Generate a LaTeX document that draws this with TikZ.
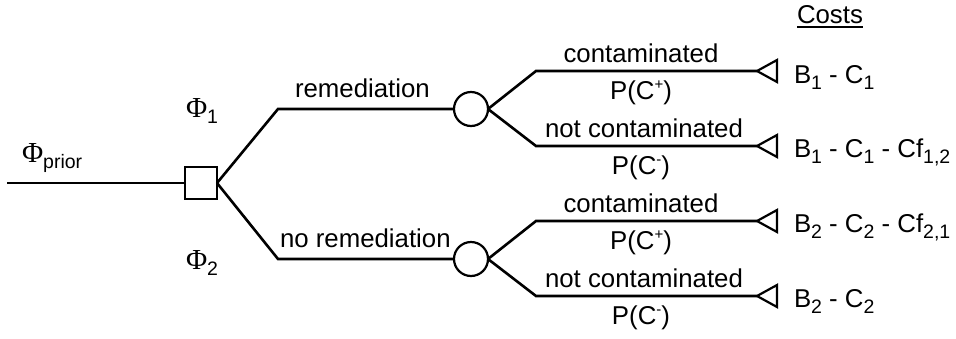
\documentclass[tikz,border=0pt]{standalone}
\usepackage{fontspec}
\setmainfont{Liberation Sans}
\newfontfamily\greekfont{Liberation Serif}
% lowered / raised small text for indices
\newcommand{\lowtxt}[1]{\raisebox{-0.27em}{\fontsize{19.5}{19.5}\selectfont #1}}
\newcommand{\uptxt}[1]{\raisebox{0.36em}{\fontsize{15}{15}\selectfont #1}}
\newcommand{\Phisym}{{\greekfont\fontsize{29}{29}\selectfont Φ}}

\begin{document}
\begin{tikzpicture}[x=1pt,y=-1pt,
  every node/.style={inner sep=0pt, outer sep=0pt, font=\fontsize{25.8}{30}\selectfont},
  branch/.style={line width=2.6pt},
  decision/.style={draw, line width=2.2pt, rectangle, minimum size=32pt, fill=white},
  chance/.style={draw, line width=2.2pt, circle, minimum size=34pt, fill=white},
  leafmark/.style={draw, line width=2.2pt, line join=miter},
  lbl/.style={anchor=base},
  lblw/.style={anchor=base west}]
\useasboundingbox (0,0) rectangle (956,338);

% decision and chance nodes
\node[decision] (sq) at (201,183) {};
\node[chance] (c1) at (471,109) {};
\node[chance] (c2) at (471,259) {};

% free ends and bends
\coordinate (root) at (7,183);
\coordinate (b1) at (278,109);
\coordinate (b2) at (278,259);
\coordinate (k1) at (536,71);
\coordinate (k2) at (536,146);
\coordinate (k3) at (536,221);
\coordinate (k4) at (536,296);
\coordinate (t1) at (757,71);
\coordinate (t2) at (757,146);
\coordinate (t3) at (757,221);
\coordinate (t4) at (757,296);

% branches
\draw[branch] (root) -- (sq.west);
\draw[branch] (sq.east) -- (b1) -- (c1.west);
\draw[branch] (sq.east) -- (b2) -- (c2.west);
\draw[branch] (c1.east) -- (k1) -- (t1);
\draw[branch] (c1.east) -- (k2) -- (t2);
\draw[branch] (c2.east) -- (k3) -- (t3);
\draw[branch] (c2.east) -- (k4) -- (t4);

% terminal triangles
\foreach \t in {t1,t2,t3,t4}
  \draw[leafmark] (\t) -- ++(20,-11) -- ++(0,22) -- cycle;

% probability labels
\node[lblw] (phip) at (22,162) {\Phisym\lowtxt{prior}};
\node[lblw] (phi1) at (186,117) {\Phisym\lowtxt{1}};
\node[lblw] (phi2) at (186,269) {\Phisym\lowtxt{2}};

% decision branch labels
\node[lblw] (rem) at (295,97) {remediation};
\node[lblw] (norem) at (280,247) {no remediation};

% outcome labels
\node[lbl] (o1) at (641,62) {contaminated};
\node[lbl] (p1) at (641,99) {P(C\uptxt{+})};
\node[lbl] (o2) at (644,137) {not contaminated};
\node[lbl] (p2) at (641,174) {P(C\uptxt{-})};
\node[lbl] (o3) at (641,212) {contaminated};
\node[lbl] (p3) at (641,249) {P(C\uptxt{+})};
\node[lbl] (o4) at (644,287) {not contaminated};
\node[lbl] (p4) at (641,324) {P(C\uptxt{-})};

% costs
\node[lblw] (costs) at (797,23) {Costs};
\draw[line width=1.6pt] ([yshift=-4pt]costs.base west) -- ([yshift=-4pt]costs.base east);
\node[lblw] (v1) at (794,83) {B\lowtxt{1} - C\lowtxt{1}};
\node[lblw] (v2) at (794,157) {B\lowtxt{1} - C\lowtxt{1} - Cf\lowtxt{1,2}};
\node[lblw] (v3) at (794,232) {B\lowtxt{2} - C\lowtxt{2} - Cf\lowtxt{2,1}};
\node[lblw] (v4) at (794,307) {B\lowtxt{2} - C\lowtxt{2}};
\end{tikzpicture}
\end{document}
